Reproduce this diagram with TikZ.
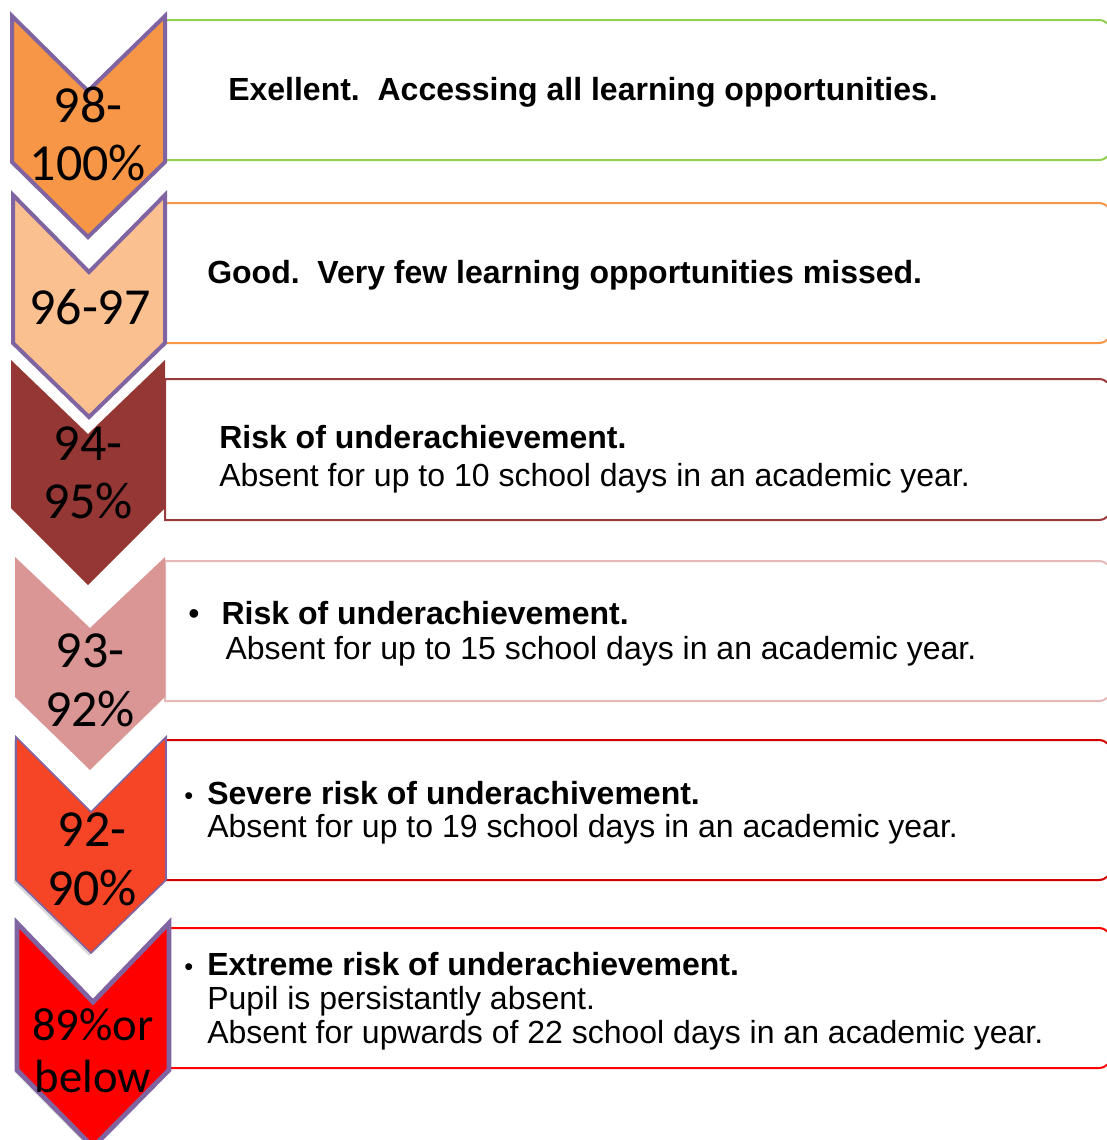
\documentclass[tikz,border=0pt]{standalone}
\usepackage{fontspec}
\setmainfont{Liberation Sans}
\newfontfamily\numfont{Carlito}
\usetikzlibrary{shadows}

\definecolor{rim}{HTML}{8064A2}
\definecolor{cA}{HTML}{F79646}
\definecolor{cB}{HTML}{FAC090}
\definecolor{cC}{HTML}{953735}
\definecolor{cD}{HTML}{D99694}
\definecolor{cE}{HTML}{F54426}
\definecolor{cF}{HTML}{FF0000}
\definecolor{bA}{HTML}{92D050}
\definecolor{bB}{HTML}{F79646}
\definecolor{bC}{HTML}{9B3A3A}
\definecolor{bD}{HTML}{E6B9B8}
\definecolor{bE}{HTML}{D40000}
\definecolor{bF}{HTML}{FF0000}

\tikzset{
  band/.style={draw=#1, line width=1.5pt, fill=white},
  rimthick/.style={draw=rim, line width=3pt},
  rimthin/.style={draw=rim, line width=1.2pt},
  soft/.style={drop shadow={shadow xshift=-1.5pt, shadow yshift=-2pt, opacity=0.3}},
  pct/.style={font=\numfont\fontsize{39}{44}\selectfont, align=center, inner sep=0pt},
  msg/.style={font=\fontsize{24}{26}\selectfont, align=left, anchor=west, inner sep=0pt},
}
\newcommand{\dotmark}{\fontsize{19}{19}\selectfont•}

\begin{document}
\begin{tikzpicture}[x=0.75pt, y=-0.75pt]
\useasboundingbox (0,0) rectangle (1107,1140);
\clip (0,0) rectangle (1107,1140);

% boxes
\draw[band=bA] (165,20) [rounded corners=10pt] -- (1112,20) -- (1112,160) [sharp corners] -- (165,160) -- cycle;
\draw[band=bB] (165,203) [rounded corners=10pt] -- (1112,203) -- (1112,343) [sharp corners] -- (165,343) -- cycle;
\draw[band=bC] (165,379) [rounded corners=10pt] -- (1112,379) -- (1112,520) [sharp corners] -- (165,520) -- cycle;
\draw[band=bD] (165,561) [rounded corners=10pt] -- (1112,561) -- (1112,701) [sharp corners] -- (165,701) -- cycle;
\draw[band=bE] (165,740) [rounded corners=10pt] -- (1112,740) -- (1112,880) [sharp corners] -- (165,880) -- cycle;
\draw[band=bF] (165,928) [rounded corners=10pt] -- (1112,928) -- (1112,1068) [sharp corners] -- (165,1068) -- cycle;

% chevrons
\filldraw[fill=cA, rimthick] (12,16) -- (88,91) -- (165,16) -- (165,162) -- (88,237) -- (12,162) -- cycle;
\filldraw[fill=cB, rimthick] (13,195) -- (89,272) -- (165,195) -- (165,343) -- (89,417) -- (13,343) -- cycle;
\fill[cC] (11,360) -- (88,434) -- (165,360) -- (165,508) -- (88,585) -- (11,508) -- cycle;
\fill[cD] (15,557) -- (90,628) -- (165,557) -- (165,697) -- (90,770) -- (15,697) -- cycle;
\filldraw[fill=cE, rimthin, soft] (16,737) -- (91,812) -- (166,737) -- (166,880) -- (91,953) -- (16,880) -- cycle;
\filldraw[fill=cF, rimthick, line width=3.5pt, soft] (17,923) -- (93,1002) -- (169,923) -- (169,1070) -- (93,1147) -- (17,1070) -- cycle;

% percentages
\node[pct] (p1) at (88,134) {98-\\100\%};
\node[pct] (p2) at (90,307) {96-97};
\node[pct] (p3) at (88,473) {94-\\95\%};
\node[pct] (p4) at (90,680) {93-\\92\%};
\node[pct] (p5) at (92,859) {92-\\90\%};
\node[pct, font=\numfont\fontsize{35}{39}\selectfont] (p6) at (93,1051) {89\%or\\below};

% messages
\node[msg] (m1) at (228,92) {\textbf{Exellent.\ \ Accessing all learning opportunities.}};
\node[msg] (m2) at (207,275) {\textbf{Good.\ \ Very few learning opportunities missed.}};
\node[msg, font=\fontsize{24}{28.5}\selectfont] (m3) at (219,459)
  {\textbf{Risk of underachievement.}\\Absent for up to 10 school days in an academic year.};
\node[msg, font=\fontsize{24}{26.25}\selectfont] (m4) at (188,633.5)
  {\makebox[25pt][l]{•}\textbf{Risk of underachievement.}\\\hspace*{28pt}Absent for up to 15 school days in an academic year.};
\node[msg, font=\fontsize{24}{24.75}\selectfont] (m5) at (184,812.5)
  {\makebox[17.25pt][l]{\dotmark}\textbf{Severe risk of underachivement.}\\\hspace*{17.25pt}Absent for up to 19 school days in an academic year.};
\node[msg, font=\fontsize{24}{25.5}\selectfont] (m6) at (184,1001)
  {\makebox[17.25pt][l]{\dotmark}\textbf{Extreme risk of underachievement.}\\\hspace*{17.25pt}Pupil is persistantly absent.\\\hspace*{17.25pt}Absent for upwards of 22 school days in an academic year.};
\end{tikzpicture}
\end{document}
